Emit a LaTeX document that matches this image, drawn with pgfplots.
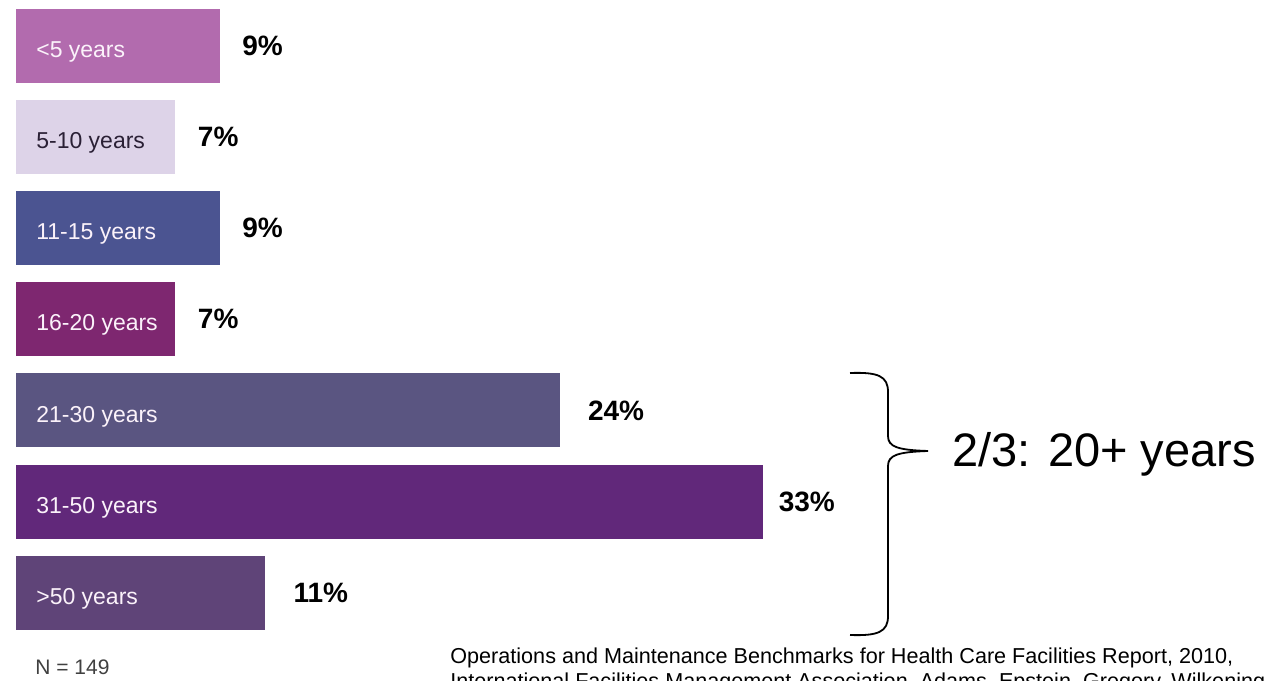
\documentclass[border=0pt]{standalone}
\usepackage{pgfplots}
\pgfplotsset{compat=1.18}
\usepackage{fontspec}
\setmainfont{Liberation Sans}
\definecolor{c1}{HTML}{B26BAE}
\definecolor{c2}{HTML}{DDD3E8}
\definecolor{c3}{HTML}{4B5491}
\definecolor{c4}{HTML}{7E2770}
\definecolor{c5}{HTML}{5A5581}
\definecolor{c6}{HTML}{61287A}
\definecolor{c7}{HTML}{5F4478}
\definecolor{lbl}{HTML}{FBF2FA}
\definecolor{dlbl}{HTML}{2A2035}
\tikzset{catlbl/.style={anchor=west, inner sep=0pt, yshift=-3pt, font=\fontsize{11.5}{13}\selectfont, text=lbl}}
\begin{document}
\begin{tikzpicture}
\begin{axis}[
  scale only axis, width=634pt, height=340pt,
  hide axis, clip=false,
  xmin=-0.7064, xmax=55.276, ymin=-0.505, ymax=6.959,
  y dir=reverse,
  xbar, bar width=37pt, bar shift=0pt,
  /pgf/number format/assume math mode=true,
  nodes near coords={\pgfmathprintnumber{\pgfplotspointmeta}\%},
  every node near coord/.append style={anchor=west, inner sep=0pt, font=\bfseries\fontsize{14}{16}\selectfont, text=black},
]
\addplot[fill=c1, draw=none, every node near coord/.append style={xshift=11pt}] coordinates {(9,0)};
\addplot[fill=c2, draw=none, every node near coord/.append style={xshift=11.5pt}] coordinates {(7,1)};
\addplot[fill=c3, draw=none, every node near coord/.append style={xshift=11pt}] coordinates {(9,2)};
\addplot[fill=c4, draw=none, every node near coord/.append style={xshift=11.5pt}] coordinates {(7,3)};
\addplot[fill=c5, draw=none, every node near coord/.append style={xshift=14pt}] coordinates {(24,4)};
\addplot[fill=c6, draw=none, every node near coord/.append style={xshift=7.5pt}] coordinates {(33,5)};
\addplot[fill=c7, draw=none, every node near coord/.append style={xshift=14pt}] coordinates {(11,6)};

\node[catlbl] at (axis cs:0.88,0) {<5 years};
\node[catlbl, text=dlbl] at (axis cs:0.88,1) {5-10 years};
\node[catlbl] at (axis cs:0.88,2) {11-15 years};
\node[catlbl] at (axis cs:0.88,3) {16-20 years};
\node[catlbl] at (axis cs:0.88,4) {21-30 years};
\node[catlbl] at (axis cs:0.88,5) {31-50 years};
\node[catlbl] at (axis cs:0.88,6) {>50 years};
\coordinate (O) at (axis cs:-0.7064,-0.505);
\end{axis}
\begin{scope}[shift={(O)}, x=0.5pt, y=-0.5pt]
\draw[line width=0.9pt]
  (850,373) .. controls (878,372) and (888,376) .. (888,392)
  -- (888,436) .. controls (888,447) and (898,450) .. (928,451)
  .. controls (898,452) and (888,455) .. (888,466)
  -- (888,616) .. controls (888,632) and (878,636) .. (850,635);
\node[anchor=base west, inner sep=0pt, font=\fontsize{23.5}{26}\selectfont] at (952,467) {2/3: 20+ years};
\node[anchor=base west, inner sep=0pt, font=\fontsize{10.5}{12}\selectfont, text=darkgray] at (35,674) {N = 149};
\node[anchor=base west, inner sep=0pt, font=\fontsize{10.8}{12.5}\selectfont] at (450,663)
  {Operations and Maintenance Benchmarks for Health Care Facilities Report, 2010,};
\node[anchor=base west, inner sep=0pt, font=\fontsize{10.8}{12.5}\selectfont] at (450,688)
  {International Facilities Management Association, Adams, Epstein, Gregory, Wilkening};
\end{scope}
\pgfresetboundingbox
\path (current axis.south west) rectangle (current axis.north east);
\end{tikzpicture}
\end{document}
